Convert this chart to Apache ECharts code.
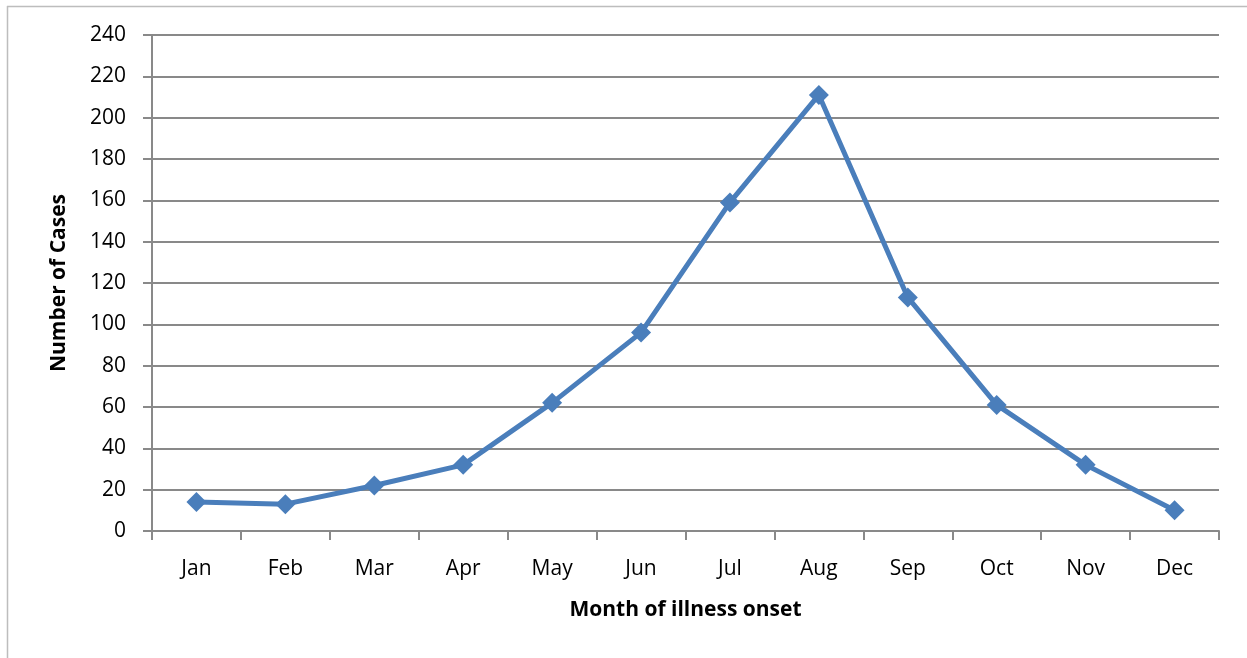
<!DOCTYPE html>
<html>
<head>
<meta charset="utf-8">
<script src="https://cdn.jsdelivr.net/npm/echarts@6/dist/echarts.min.js"></script>
<style>
  html, body { margin: 0; padding: 0; background: #fff; }
  #chart { width: 1247px; height: 658px; }
</style>
</head>
<body>
<div id="chart"></div>
<script>
// data
const months = ["Jan", "Feb", "Mar", "Apr", "May", "Jun", "Jul", "Aug", "Sep", "Oct", "Nov", "Dec"];
const cases = [14, 13, 22, 32, 62, 96, 159, 211, 113, 61, 32, 10];

const font = "'Open Sans', 'Liberation Sans', sans-serif";
const axisGray = "#898989";

const chart = echarts.init(document.getElementById("chart"));

chart.setOption({
  animation: false,
  backgroundColor: "#fff",
  textStyle: { fontFamily: font },
  graphic: {
    elements: [
      // outer frame (top + left edge visible in the reference)
      { type: "line", shape: { x1: 7, y1: 6.5, x2: 1247, y2: 6.5 }, style: { stroke: "#bdbdbd", lineWidth: 1.5 } },
      { type: "line", shape: { x1: 7.5, y1: 6, x2: 7.5, y2: 658 }, style: { stroke: "#bdbdbd", lineWidth: 1.5 } }
    ]
  },
  grid: { left: 152, right: 28, top: 35, bottom: 127 },
  xAxis: {
    type: "category",
    data: months,
    boundaryGap: true,
    name: "Month of illness onset",
    nameLocation: "middle",
    nameGap: 69,
    nameTextStyle: { color: "#000", fontSize: 21, fontWeight: "bold", fontFamily: font },
    axisLine: { lineStyle: { color: axisGray, width: 2 } },
    axisTick: { show: true, length: 9, alignWithLabel: false, lineStyle: { color: axisGray, width: 2 } },
    axisLabel: { color: "#000", fontSize: 21, margin: 28, fontFamily: font },
    splitLine: { show: false }
  },
  yAxis: {
    type: "value",
    min: 0,
    max: 240,
    interval: 20,
    name: "Number of Cases",
    nameLocation: "middle",
    nameGap: 82,
    nameRotate: 90,
    nameTextStyle: { color: "#000", fontSize: 21, fontWeight: "bold", fontFamily: font },
    axisLine: { show: true, lineStyle: { color: axisGray, width: 2 } },
    axisTick: { show: true, length: 9, lineStyle: { color: axisGray, width: 2 } },
    axisLabel: { color: "#000", fontSize: 21, margin: 26, fontFamily: font },
    splitLine: { show: true, lineStyle: { color: axisGray, width: 2 } }
  },
  series: [
    {
      type: "line",
      data: cases,
      symbol: "diamond",
      symbolSize: 20,
      lineStyle: { color: "#4A7EBB", width: 5 },
      itemStyle: { color: "#4A7EBB" }
    }
  ]
});
</script>
</body>
</html>
